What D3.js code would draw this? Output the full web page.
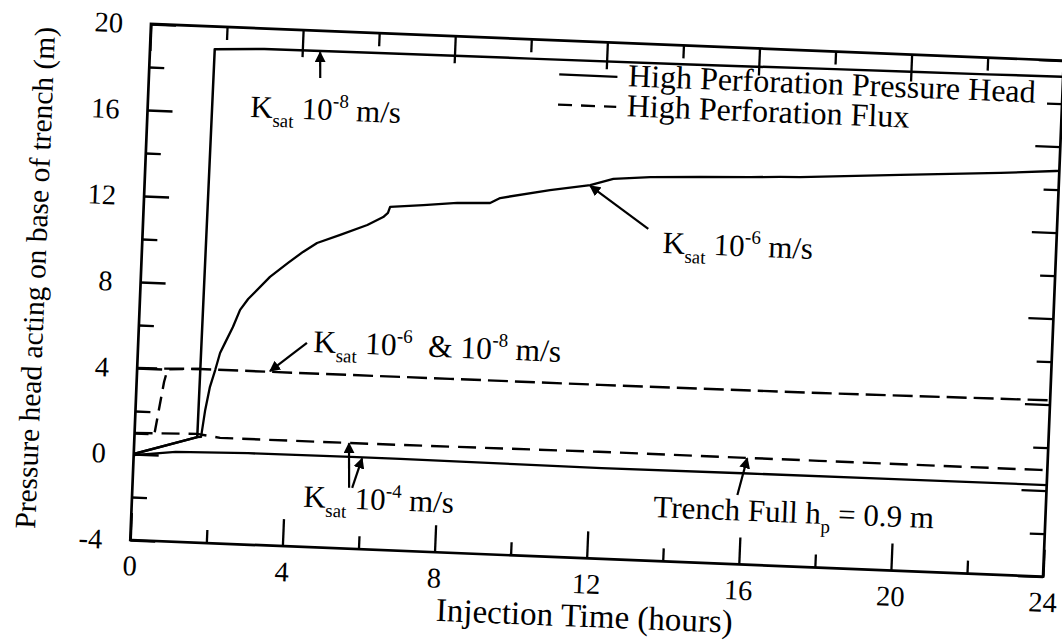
<!DOCTYPE html>
<html><head><meta charset="utf-8">
<script src="https://cdn.jsdelivr.net/npm/d3@7"></script>
<style>body{margin:0;background:#fff}svg{display:block}</style>
</head><body><svg id="c" width="1062" height="642"></svg>
<script>
// ---- data ----
const xTicksMajor = [0, 4, 8, 12, 16, 20, 24];
const xTicksMinor = [2, 6, 10, 14, 18, 22];
const yTicksMajor = [-4, 0, 4, 8, 12, 16, 20];
const yTicksMinor = [-2, 2, 6, 10, 14, 18];

// High perforation pressure head, Ksat 1e-8 m/s
const headK8_t = [0, 1.65, 1.70, 3, 6, 10, 14, 18, 20, 22, 24];
const headK8_h = [0, 0.9, 18.95, 19.05, 19.08, 19.1, 19.12, 19.18, 19.2, 19.22, 19.25];
// High perforation pressure head, Ksat 1e-6 m/s
const headK6_t = [0, 1.65, 1.75, 1.83, 1.93, 2.05, 2.16, 2.28, 2.47, 2.64, 2.84, 3.39, 3.85, 4.23, 4.59, 5.19, 5.89, 6.3, 6.42, 6.47, 7.34, 8.23, 9.09, 9.35, 10.65, 11.7, 12.3, 13.27, 14.58, 15.9, 16.68, 17.2, 19.83, 22.46, 23.9, 24];
const headK6_h = [0, 0.9, 0.92, 2.18, 3.26, 4.05, 4.85, 5.33, 6.08, 6.89, 7.41, 8.48, 9.16, 9.7, 10.14, 10.56, 11.07, 11.47, 11.67, 11.95, 12.1, 12.26, 12.32, 12.57, 13.03, 13.34, 13.67, 13.82, 13.92, 14.01, 14.07, 14.1, 14.39, 14.67, 14.86, 14.87];
// High perforation pressure head, Ksat 1e-4 m/s
const headK4_t = [0, 1.1, 3, 5.7, 7, 10, 12.3, 16, 20, 24];
const headK4_h = [-0.05, 0.18, 0.25, 0.27, 0.27, 0.24, 0.22, 0.24, 0.25, 0.26];
// High perforation flux, Ksat 1e-6 & 1e-8 m/s
const fluxK8_t = [0, 0.65, 1.65, 3.49, 8.23, 12.17, 17.96, 24];
const fluxK8_h = [4.0, 4.02, 4.07, 4.07, 4.08, 4.08, 4.11, 4.2];
const fluxK6_t = [0, 0.52, 0.72, 0.8, 1.65];
const fluxK6_h = [0.95, 0.95, 3.4, 4.0, 4.07];
// High perforation flux, Ksat 1e-4 m/s (trench full)
const fluxK4_t = [0, 1.64, 2.25, 4.88, 7, 12.2, 18, 23.8, 24];
const fluxK4_h = [0.98, 1.05, 0.91, 0.91, 0.92, 0.97, 0.96, 0.95, 0.95];

// ---- chart ----
const W = 913.5, H = 516.4;
const FONT = "'Liberation Serif','Times New Roman',serif";
const svg = d3.select('#c');
svg.append('rect').attr('width', 1062).attr('height', 642).attr('fill', '#fff');
const defs = svg.append('defs');
defs.append('marker').attr('id', 'ah').attr('viewBox', '0 0 10 10').attr('refX', 9).attr('refY', 5)
  .attr('markerWidth', 11).attr('markerHeight', 11).attr('markerUnits', 'userSpaceOnUse').attr('orient', 'auto')
  .append('path').attr('d', 'M0,0 L10,5 L0,10 Z').attr('fill', '#000');

const g = svg.append('g').attr('transform', 'translate(151,24) rotate(2.3)')
  .style('font-family', FONT);

const x = d3.scaleLinear().domain([0, 24]).range([0, W]);
const y = d3.scaleLinear().domain([-4, 20]).range([H, 0]);
const fmt = d => String(d);

function styleAxis(a) {
  a.select('.domain').remove();
  a.selectAll('line').attr('stroke', '#000').attr('stroke-width', 2.3);
  a.selectAll('text').attr('font-family', FONT).attr('font-size', 28.5).attr('fill', '#000');
  a.attr('font-family', FONT);
}
// bottom
styleAxis(g.append('g').attr('transform', `translate(0,${H})`)
  .call(d3.axisBottom(x).tickValues(xTicksMajor).tickSize(-27).tickPadding(15).tickFormat(fmt)));
styleAxis(g.append('g').attr('transform', `translate(0,${H})`)
  .call(d3.axisBottom(x).tickValues(xTicksMinor).tickSize(-13).tickFormat('')));
// top
styleAxis(g.append('g').call(d3.axisTop(x).tickValues(xTicksMajor).tickSize(-27).tickFormat('')));
styleAxis(g.append('g').call(d3.axisTop(x).tickValues(xTicksMinor).tickSize(-13).tickFormat('')));
// left
styleAxis(g.append('g')
  .call(d3.axisLeft(y).tickValues(yTicksMajor).tickSize(-25).tickPadding(28).tickFormat(fmt)));
styleAxis(g.append('g').call(d3.axisLeft(y).tickValues(yTicksMinor).tickSize(-15).tickFormat('')));
// right
styleAxis(g.append('g').attr('transform', `translate(${W},0)`)
  .call(d3.axisRight(y).tickValues(yTicksMajor).tickSize(-25).tickFormat('')));
styleAxis(g.append('g').attr('transform', `translate(${W},0)`)
  .call(d3.axisRight(y).tickValues(yTicksMinor).tickSize(-15).tickFormat('')));

// frame
g.append('rect').attr('x', 0).attr('y', 0).attr('width', W).attr('height', H)
  .attr('fill', 'none').attr('stroke', '#000').attr('stroke-width', 2.7);

// lines
const line = d3.line().x(d => x(d[0])).y(d => y(d[1]));
function series(ts, hs, dash, sw) {
  g.append('path').datum(ts.map((t, i) => [t, hs[i]])).attr('d', line)
    .attr('fill', 'none').attr('stroke', '#000').attr('stroke-width', sw)
    .attr('stroke-linejoin', 'round').attr('stroke-dasharray', dash);
}
series(headK8_t, headK8_h, null, 2.5);
series(headK6_t, headK6_h, null, 2.3);
series(headK4_t, headK4_h, null, 2.3);
series(fluxK8_t, fluxK8_h, '20,7', 2.4);
series(fluxK6_t, fluxK6_h, '14,8', 2.4);
series(fluxK4_t, fluxK4_h, '18,9', 2.4);

// rich text helper
function rich(t, h, parts, size) {
  const tx = g.append('text').attr('x', x(t)).attr('y', y(h)).attr('font-size', size)
    .style('white-space', 'pre').attr('fill', '#000');
  let cur = 0;
  parts.forEach(([s, k]) => {
    const off = k === 'sub' ? 9 : k === 'sup' ? -13 : 0;
    tx.append('tspan').attr('dy', off - cur).attr('font-size', k === 'n' ? size : 19).text(s);
    cur = off;
  });
}
function arrow(t0, h0, t1, h1) {
  g.append('line').attr('x1', x(t0)).attr('y1', y(h0)).attr('x2', x(t1)).attr('y2', y(h1))
    .attr('stroke', '#000').attr('stroke-width', 2.2).attr('marker-end', 'url(#ah)');
}

// annotations
rich(2.70, 15.87, [['K', 'n'], ['sat', 'sub'], [' 10', 'n'], ['-8', 'sup'], [' m/s', 'n']], 31);
arrow(4.5, 17.81, 4.47, 19.0);
rich(13.66, 10.32, [['K', 'n'], ['sat', 'sub'], [' 10', 'n'], ['-6', 'sup'], [' m/s', 'n']], 31);
arrow(13.27, 11.41, 11.7, 13.3);
rich(4.6, 5.07, [['K', 'n'], ['sat', 'sub'], [' 10', 'n'], ['-6', 'sup'], ['  & 10', 'n'], ['-8', 'sup'], [' m/s', 'n']], 31.5);
arrow(4.43, 5.48, 3.49, 4.1);
rich(4.5, -2.14, [['K', 'n'], ['sat', 'sub'], [' 10', 'n'], ['-4', 'sup'], [' m/s', 'n']], 31);
arrow(5.69, -1.17, 5.64, 0.9);
arrow(5.77, -1.17, 6.0, 0.22);
rich(13.7, -1.96, [['Trench Full h', 'n'], ['p', 'sub'], [' = 0.9 m', 'n']], 31);
arrow(15.89, -0.78, 16.11, 0.94);

// legend
const legend = [
  { label: 'High Perforation Pressure Head', dash: null, h: 18.0 },
  { label: 'High Perforation Flux', dash: '14,9', h: 16.6 }
];
legend.forEach(d => {
  const yy = y(d.h) - 9;
  g.append('line').attr('x1', x(10.77)).attr('x2', x(12.3)).attr('y1', yy).attr('y2', yy)
    .attr('stroke', '#000').attr('stroke-width', 2.3).attr('stroke-dasharray', d.dash);
  g.append('text').attr('x', x(12.58)).attr('y', y(d.h)).attr('font-size', 32).attr('fill', '#000').text(d.label);
});

// axis titles
g.append('text').attr('transform', `translate(${W / 2},${H + 57})`).attr('text-anchor', 'middle')
  .attr('dy', '0.35em').attr('font-size', 33).text('Injection Time (hours)');
g.append('text').attr('transform', `translate(-106,${H / 2}) rotate(-90)`).attr('text-anchor', 'middle')
  .attr('dy', '0.35em').attr('font-size', 29.5).text('Pressure head acting on base of trench (m)');
</script></body></html>
